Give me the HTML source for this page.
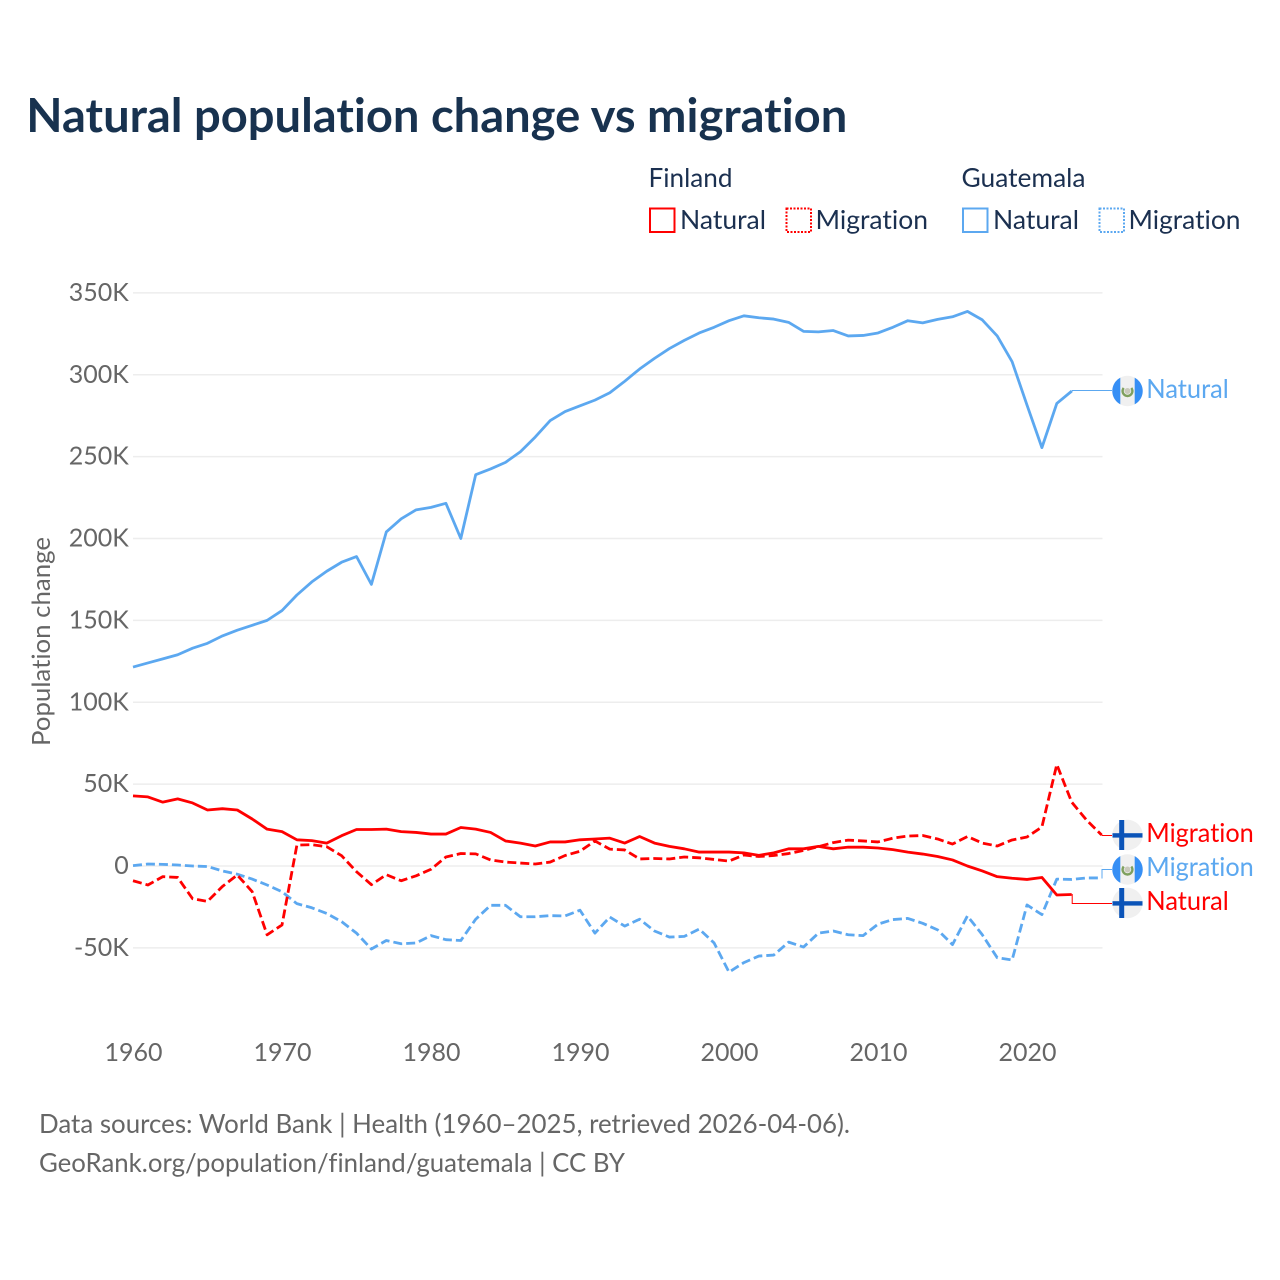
<!DOCTYPE html>
<html lang="en">
<head>
<meta charset="utf-8">
<title>Natural population change vs migration</title>
<style>
html,body{margin:0;padding:0;background:#fff;width:1280px;height:1280px;overflow:hidden}
svg{display:block}
text{font-family:"Lato","Carlito","Liberation Sans",sans-serif;font-variant-ligatures:none;font-feature-settings:"liga" 0,"clig" 0}
</style>
</head>
<body>
<svg id="chart" xmlns="http://www.w3.org/2000/svg" width="1280" height="1280" viewBox="0 0 1280 1280">
  <text x="26.300" y="132" font-size="47" font-weight="700" fill="#18324f" textLength="821" lengthAdjust="spacingAndGlyphs">Natural population change vs migration</text>

  <g font-size="26" fill="#1b3050">
    <text x="648.500" y="187" textLength="84" lengthAdjust="spacingAndGlyphs">Finland</text>
    <text x="961.500" y="187" textLength="124" lengthAdjust="spacingAndGlyphs">Guatemala</text>

    <rect x="650" y="208.500" width="24.500" height="23.500" fill="none" stroke="#ff0000" stroke-width="2"/>
    <text x="680" y="229" textLength="86" lengthAdjust="spacingAndGlyphs">Natural</text>
    <rect x="786.500" y="208.500" width="24.500" height="23.500" fill="none" stroke="#ff0000" stroke-width="2" stroke-dasharray="2,1.500"/>
    <text x="815.500" y="229" textLength="112.500" lengthAdjust="spacingAndGlyphs">Migration</text>

    <rect x="963" y="208.500" width="24.500" height="23.500" fill="none" stroke="#5ca8f0" stroke-width="2"/>
    <text x="993" y="229" textLength="86" lengthAdjust="spacingAndGlyphs">Natural</text>
    <rect x="1099.500" y="208.500" width="24.500" height="23.500" fill="none" stroke="#5ca8f0" stroke-width="2" stroke-dasharray="2,1.500"/>
    <text x="1128.500" y="229" textLength="112" lengthAdjust="spacingAndGlyphs">Migration</text>
  </g>

  <g id="grid"></g>
  <g id="yticks" font-size="25" fill="#666666" text-anchor="end"></g>
  <g id="xticks" font-size="25" fill="#666666" text-anchor="middle"></g>
  <text transform="translate(50,746) rotate(-90)" font-size="25" fill="#666666" textLength="209" lengthAdjust="spacingAndGlyphs">Population change</text>

  <g id="connectors"></g>
  <g id="series"></g>

  <g id="end-labels" font-size="26">
    <g transform="translate(1127.500,391)">
      <circle r="15.200" fill="#f0f0f0"/>
      <path d="M-7.200,-13.400 A15.200,15.200 0 0 0 -7.200,13.400 Z" fill="#368ff5"/>
      <path d="M7.200,-13.400 A15.200,15.200 0 0 1 7.200,13.400 Z" fill="#368ff5"/>
      <circle r="3" fill="#c9c9bb"/>
      <path d="M-3.800,-3 A4.900,4.900 0 1 0 3.800,-3" fill="none" stroke="#7fa05e" stroke-width="2.400"/>
    </g>
    <text x="1146.300" y="398" fill="#5ca8f0" textLength="82.500" lengthAdjust="spacingAndGlyphs">Natural</text>

    <g transform="translate(1127.500,835)">
      <circle r="15.200" fill="#f0f0f0"/>
      <rect x="-8.300" y="-15" width="5" height="30" fill="#0b54b8"/>
      <rect x="-15" y="-1.800" width="30" height="4.400" fill="#0b54b8"/>
    </g>
    <text x="1146.300" y="842" fill="#ff0000" textLength="107.500" lengthAdjust="spacingAndGlyphs">Migration</text>

    <g transform="translate(1127.500,869.500)">
      <circle r="15.200" fill="#f0f0f0"/>
      <path d="M-7.200,-13.400 A15.200,15.200 0 0 0 -7.200,13.400 Z" fill="#368ff5"/>
      <path d="M7.200,-13.400 A15.200,15.200 0 0 1 7.200,13.400 Z" fill="#368ff5"/>
      <circle r="3" fill="#c9c9bb"/>
      <path d="M-3.800,-3 A4.900,4.900 0 1 0 3.800,-3" fill="none" stroke="#7fa05e" stroke-width="2.400"/>
    </g>
    <text x="1146.300" y="876" fill="#5ca8f0" textLength="107.500" lengthAdjust="spacingAndGlyphs">Migration</text>

    <g transform="translate(1127.500,903)">
      <circle r="15.200" fill="#f0f0f0"/>
      <rect x="-8.300" y="-15" width="5" height="30" fill="#0b54b8"/>
      <rect x="-15" y="-1.800" width="30" height="4.400" fill="#0b54b8"/>
    </g>
    <text x="1146.300" y="910" fill="#ff0000" textLength="82.500" lengthAdjust="spacingAndGlyphs">Natural</text>
  </g>

  <g font-size="26" fill="#666666">
    <text x="39" y="1133" textLength="811" lengthAdjust="spacingAndGlyphs">Data sources: World Bank | Health (1960–2025, retrieved 2026-04-06).</text>
    <text x="39" y="1172" textLength="586" lengthAdjust="spacingAndGlyphs">GeoRank.org/population/finland/guatemala | CC BY</text>
  </g>
</svg>

<script>
const years = [1960,1961,1962,1963,1964,1965,1966,1967,1968,1969,1970,1971,1972,1973,1974,1975,1976,1977,1978,1979,1980,1981,1982,1983,1984,1985,1986,1987,1988,1989,1990,1991,1992,1993,1994,1995,1996,1997,1998,1999,2000,2001,2002,2003,2004,2005,2006,2007,2008,2009,2010,2011,2012,2013,2014,2015,2016,2017,2018,2019,2020,2021,2022,2023,2024,2025];
const yTickValues = [-50,0,50,100,150,200,250,300,350];
const xTickValues = [1960,1970,1980,1990,2000,2010,2020];

/* Values in thousands of people */
const guatemalaNatural = [121.5,124,126.5,129,133,136,140.5,144,147,150,156,165.5,173.5,180,185.5,189,172,204,212,217.5,219,221.5,200,239,242.5,246.5,253,262,272,277.5,281,284.5,289,296,303.5,310,316,321,325.5,329,333,336,334.8,334,332,326.5,326.2,327,323.7,324,325.5,329,333,331.7,333.8,335.4,338.7,333.5,323.7,308,281.5,255.5,282.5,290];
const guatemalaMigration = [0.2,1.2,1,0.6,0,-0.3,-3,-5,-8,-11.6,-15.7,-23,-25.5,-29,-34,-41,-50.7,-45.5,-47.5,-47,-42.5,-45,-45.5,-32.5,-24,-24,-31,-31,-30.3,-30.5,-27,-41,-31.2,-36.7,-32.5,-39.7,-43.4,-43,-38.5,-47,-64.8,-59,-55,-54.4,-46.5,-49.5,-41,-39.7,-42,-42.5,-35.5,-32.7,-32,-35,-39,-48,-30.5,-42,-56,-57.4,-23.8,-29.7,-8,-8.2,-7.3,-7.3];
const finlandNatural = [42.8,42.2,39,41,38.5,34.2,35,34.2,28.7,22.5,21,16,15.5,14,18.5,22.3,22.3,22.5,21,20.5,19.5,19.5,23.5,22.5,20.5,15.3,14,12.2,14.7,14.7,16,16.5,17,14,18,14,12,10.5,8.5,8.5,8.5,8,6.5,8,10.5,10.5,12,10.5,11.5,11.5,11,10,8.5,7.3,5.8,3.7,0,-3,-6.5,-7.5,-8.2,-7,-17.7,-17.4];
const finlandMigration = [-9,-11.6,-6.5,-7,-20,-21.6,-12.5,-5.5,-15.7,-42,-36,12.8,13,11.8,6.3,-3.5,-11.4,-5.3,-9,-6,-2,5.5,7.6,7.4,3.7,2.4,1.8,1.2,2.4,6.4,9,15.3,10.3,9.8,4.3,4.6,4.3,5.5,5,4,3,6.7,5.8,6.4,7.6,9.5,11.8,14.3,15.8,15.3,14.7,17,18.3,18.6,16.5,13.4,18,14,12.2,15.9,17.7,23.8,62,39,28,19];

const NS = 'http://www.w3.org/2000/svg';
function xScale(year){ return 133 + (year - 1960) * 14.9; }
function yScale(v){ return 866 - v * 1.6375; }
function make(tag, attrs){
  const el = document.createElementNS(NS, tag);
  for (const k in attrs) el.setAttribute(k, attrs[k]);
  return el;
}

const grid = document.getElementById('grid');
const yticks = document.getElementById('yticks');
yTickValues.forEach(function(v){
  const line = make('line', {x1: 133, x2: 1102.500, y1: yScale(v), y2: yScale(v), stroke: '#ededed', 'stroke-width': 1.500});
  
  
  grid.appendChild(line);
  const t = make('text', {x: 128.800, y: yScale(v) + 8});
  
  
  t.textContent = v === 0 ? '0' : v + 'K';
  yticks.appendChild(t);
});

const xticks = document.getElementById('xticks');
xTickValues.forEach(function(yr){
  const t = make('text', {x: xScale(yr) + 0.500, y: 1061});
  
  
  t.textContent = String(yr);
  xticks.appendChild(t);
});

function linePath(values){
  return values.map(function(v, i){
    return (i ? 'L' : 'M') + xScale(years[i]).toFixed(2) + ',' + yScale(v).toFixed(2);
  }).join(' ');
}

const seriesGroup = document.getElementById('series');
function drawSeries(values, color, dashed, name){
  const p = make('path', {d: linePath(values), fill: 'none', stroke: color, 'stroke-width': 2.800, 'stroke-linejoin': 'round'});
  if (dashed) p.setAttribute('stroke-dasharray', '9,4');
  
  
  seriesGroup.appendChild(p);
}
drawSeries(guatemalaMigration, '#5ca8f0', true, 'line-guatemala-migration');
drawSeries(guatemalaNatural, '#5ca8f0', false, 'line-guatemala-natural');
drawSeries(finlandMigration, '#ff0000', true, 'line-finland-migration');
drawSeries(finlandNatural, '#ff0000', false, 'line-finland-natural');

const connectors = document.getElementById('connectors');
function drawConnector(values, labelY, color, name){
  const i = values.length - 1;
  const x0 = xScale(years[i]);
  const y0 = yScale(values[i]);
  const c = make('path', {d: 'M' + x0 + ',' + y0 + ' H' + (x0 + 0.500) + ' V' + labelY + ' H1112', fill: 'none', stroke: color, 'stroke-width': 1});
  
  
  connectors.appendChild(c);
}
drawConnector(guatemalaNatural, 390.500, '#5ca8f0', 'connector-guatemala-natural');
drawConnector(finlandMigration, 835.500, '#ff0000', 'connector-finland-migration');
drawConnector(guatemalaMigration, 869.500, '#5ca8f0', 'connector-guatemala-migration');
drawConnector(finlandNatural, 903.500, '#ff0000', 'connector-finland-natural');
</script>
</body>
</html>
